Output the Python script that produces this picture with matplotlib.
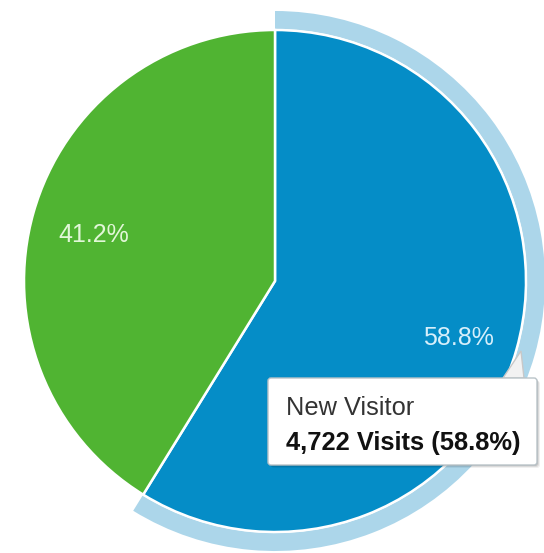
import matplotlib
matplotlib.use("Agg")
import matplotlib.pyplot as plt
from matplotlib.patches import Wedge, FancyBboxPatch, Polygon
import numpy as np

# data
categories = ["New Visitor", "Returning Visitor"]
shares = [58.8, 41.2]
visits_new = 4722
colors = ["#058DC7", "#50B432"]
label_colors = ["#d6effb", "#e2f7d8"]

W, H = 544, 553
fig = plt.figure(figsize=(W / 100, H / 100), dpi=100)
ax = fig.add_axes([0, 0, 1, 1])

cx, cy, R = 275, H - 281, 251

wedges, _ = ax.pie(shares, colors=colors, startangle=90, counterclock=False,
                   center=(cx, cy), radius=R,
                   wedgeprops=dict(edgecolor="white", linewidth=1.8), frame=True)
ax.set_xlim(0, W)
ax.set_ylim(0, H)
ax.set_aspect("equal")
ax.axis("off")

# hover halo on the first slice
w0 = wedges[0]
halo = Wedge((cx, cy), 270, w0.theta1, w0.theta2, width=18,
             facecolor="#acd6ea", edgecolor="none", zorder=0.5)
ax.add_patch(halo)

# percentage labels
dists = [0.76, 0.75]
for w, s, d, c in zip(wedges, shares, dists, label_colors):
    th = np.deg2rad((w.theta1 + w.theta2) / 2)
    ax.text(cx + d * R * np.cos(th), cy + d * R * np.sin(th) - 5, f"{s:.1f}%",
            ha="center", va="center", color=c, fontsize=18,
            family="Liberation Sans", zorder=5)

# tooltip
bx0, bx1 = 268, 537
by0, by1 = H - 465, H - 378
for k, a in zip([3, 2, 1], [0.06, 0.09, 0.12]):
    ax.add_patch(FancyBboxPatch((bx0 + k, by0 - k), bx1 - bx0, by1 - by0,
                                boxstyle="round,pad=0,rounding_size=3",
                                facecolor="black", edgecolor="none", alpha=a, zorder=6))
ax.add_patch(Polygon([(503, H - 378), (524, H - 378), (521, H - 351)], closed=True,
                     facecolor="#f2f2f2", edgecolor="#c8c8c8", linewidth=1, zorder=6.5))
ax.add_patch(FancyBboxPatch((bx0, by0), bx1 - bx0, by1 - by0,
                            boxstyle="round,pad=0,rounding_size=3",
                            facecolor="white", edgecolor="#b9c3c8", linewidth=1, zorder=7))
ax.text(286, H - 415, categories[0], ha="left", va="baseline", color="#333333",
        fontsize=18.3, family="Liberation Sans", zorder=8)
ax.text(286, H - 450, f"{visits_new:,} Visits ({shares[0]:.1f}%)", ha="left",
        va="baseline", color="#111111", fontsize=18.4, fontweight="bold",
        family="Liberation Sans", zorder=8)

fig.savefig("out.png", dpi=100)
